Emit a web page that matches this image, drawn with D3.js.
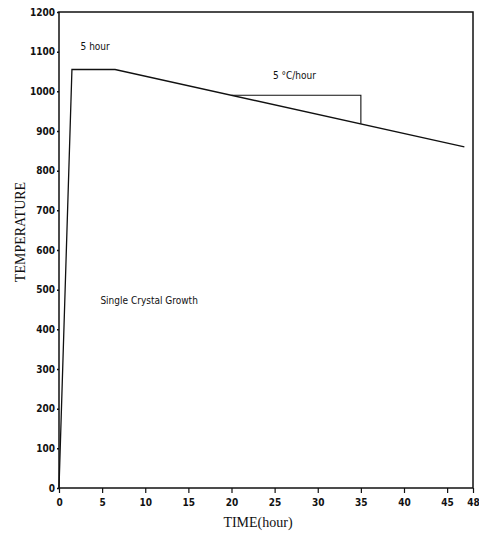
<!DOCTYPE html>
<html>
<head>
<meta charset="utf-8">
<script src="https://cdn.jsdelivr.net/npm/d3@7"></script>
<style>
  html, body { margin: 0; padding: 0; background: #fff; }
  svg { display: block; }
  .tick-label { font-family: "DejaVu Sans Condensed", "Liberation Sans Narrow", "DejaVu Sans", sans-serif; font-stretch: condensed; font-size: 10px; font-weight: bold; fill: #111; }
  .axis-title { font-family: "Liberation Serif", "DejaVu Serif", serif; font-size: 14px; fill: #111; }
  .note { font-family: "DejaVu Sans Condensed", "DejaVu Sans", sans-serif; font-stretch: condensed; font-size: 10px; fill: #111; }
</style>
</head>
<body>
<script>
// Heating schedule: fast ramp, 5 h soak, then slow cooling
const timeHours = [0, 1.5, 6.5, 47];
const temperatures = [0, 1055, 1055, 860];

// Slope marker drawn on the cooling segment
const slopeTime = [20, 35, 35];
const slopeTemp = [990, 990, 918];

const xTicks = [0, 5, 10, 15, 20, 25, 30, 35, 40, 45, 48];
const yTicks = [0, 100, 200, 300, 400, 500, 600, 700, 800, 900, 1000, 1100, 1200];

const width = 479, height = 538;
const margin = { left: 59, right: 6, top: 12, bottom: 50 };

const svg = d3.select("body").append("svg")
  .attr("width", width).attr("height", height);

const x = d3.scaleLinear().domain([0, 48]).range([margin.left, width - margin.right]);
const y = d3.scaleLinear().domain([0, 1200]).range([height - margin.bottom, margin.top]);

// Frame
svg.append("rect")
  .attr("x", x(0)).attr("y", y(1200))
  .attr("width", x(48) - x(0)).attr("height", y(0) - y(1200))
  .attr("fill", "none").attr("stroke", "#111").attr("stroke-width", 1.5);

// Bottom axis
const xAxis = svg.append("g")
  .attr("transform", `translate(0,${y(0)})`)
  .call(d3.axisBottom(x).tickValues(xTicks).tickSize(5).tickPadding(6).tickFormat(d3.format("d")));
xAxis.select(".domain").remove();
xAxis.selectAll("line").attr("stroke", "#111").attr("stroke-width", 1.2);
xAxis.selectAll("text").attr("class", "tick-label").attr("font-family", null).attr("font-size", null);

// Left axis
const yAxis = svg.append("g")
  .attr("transform", `translate(${x(0)},0)`)
  .call(d3.axisLeft(y).tickValues(yTicks).tickSize(2).tickPadding(2).tickFormat(d3.format("d")));
yAxis.select(".domain").remove();
yAxis.selectAll("line").attr("stroke", "#111").attr("stroke-width", 1.5);
yAxis.selectAll("text").attr("class", "tick-label").attr("font-family", null).attr("font-size", null);

// Axis titles
svg.append("text").attr("class", "axis-title")
  .attr("x", 258).attr("y", 527).attr("text-anchor", "middle")
  .text("TIME(hour)");

svg.append("text").attr("class", "axis-title")
  .attr("transform", "translate(25,232) rotate(-90)")
  .attr("text-anchor", "middle")
  .text("TEMPERATURE");

// Temperature profile
const line = d3.line().x((d, i) => x(timeHours[i])).y((d, i) => y(temperatures[i]));
svg.append("path")
  .attr("d", line(timeHours))
  .attr("fill", "none").attr("stroke", "#111").attr("stroke-width", 1.3);

// Slope marker
const slopeLine = d3.line().x((d, i) => x(slopeTime[i])).y((d, i) => y(slopeTemp[i]));
svg.append("path")
  .attr("d", slopeLine(slopeTime))
  .attr("fill", "none").attr("stroke", "#111").attr("stroke-width", 1.1);

// Annotations
svg.append("text").attr("class", "note")
  .attr("x", x(2.5)).attr("y", y(1105))
  .text("5 hour");

svg.append("text").attr("class", "note")
  .attr("x", x(24.8)).attr("y", y(1030))
  .text("5 °C/hour");

svg.append("text").attr("class", "note")
  .attr("x", x(4.8)).attr("y", y(465))
  .text("Single Crystal Growth");
</script>
</body>
</html>
